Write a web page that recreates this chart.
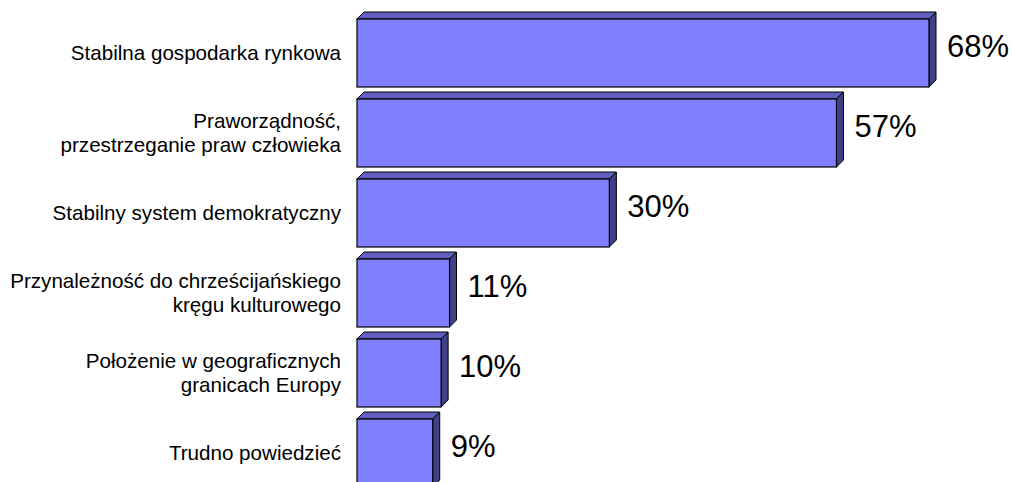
<!DOCTYPE html>
<html>
<head>
<meta charset="utf-8">
<script src="https://cdn.jsdelivr.net/npm/d3@7"></script>
<style>
  body { margin: 0; background: #fff; }
  svg { display: block; font-family: "Liberation Sans", Arial, sans-serif; }
</style>
</head>
<body>
<div id="chart"></div>
<script>
// Data
const categories = [
  ["Stabilna gospodarka rynkowa"],
  ["Praworządność,", "przestrzeganie praw człowieka"],
  ["Stabilny system demokratyczny"],
  ["Przynależność do chrześcijańskiego", "kręgu kulturowego"],
  ["Położenie w geograficznych", "granicach Europy"],
  ["Trudno powiedzieć"]
];
const values = [68, 57, 30, 11, 10, 9];
const valueLabels = ["68%", "57%", "30%", "11%", "10%", "9%"];

// Dimensions
const dimensions = {
  width: 1012,
  height: 482,
  left: 357,
  depth: 7,
};

const svg = d3
  .select("#chart")
  .append("svg")
  .attr("width", dimensions.width)
  .attr("height", dimensions.height);

// Scales
const xScale = d3
  .scaleLinear()
  .domain([0, 68])
  .range([dimensions.left, 929]);

const yScale = d3
  .scaleBand()
  .domain(d3.range(values.length))
  .range([13, 493])
  .paddingInner(0.15)
  .paddingOuter(0.075);

const bw = yScale.bandwidth();
const dd = dimensions.depth;

const bars = svg
  .selectAll(".bar")
  .data(values)
  .join("g")
  .attr("class", "bar");

// top face
bars
  .append("path")
  .attr("d", (d, i) => {
    const x0 = xScale(0), x1 = xScale(d), y = yScale(i);
    return `M${x0},${y}L${x0 + dd},${y - dd}L${x1 + dd},${y - dd}L${x1},${y}Z`;
  })
  .attr("fill", "#6060c0")
  .attr("stroke", "#000")
  .attr("stroke-width", 1)
  .attr("stroke-linejoin", "round");

// side face
bars
  .append("path")
  .attr("d", (d, i) => {
    const x1 = xScale(d), y = yScale(i);
    return `M${x1},${y}L${x1 + dd},${y - dd}L${x1 + dd},${y + bw - dd}L${x1},${y + bw}Z`;
  })
  .attr("fill", "#404088")
  .attr("stroke", "#000")
  .attr("stroke-width", 1)
  .attr("stroke-linejoin", "round");

// front face
bars
  .append("rect")
  .attr("x", xScale(0))
  .attr("y", (d, i) => yScale(i))
  .attr("width", (d) => xScale(d) - xScale(0))
  .attr("height", bw)
  .attr("fill", "#8080ff")
  .attr("stroke", "#000")
  .attr("stroke-width", 1.2);

// value labels
svg
  .selectAll(".value")
  .data(values)
  .join("text")
  .attr("class", "value")
  .attr("x", (d) => xScale(d) + dd + 11)
  .attr("y", (d, i) => yScale(i) + bw / 2 + 4)
  .attr("font-size", 31)
  .attr("fill", "#000")
  .text((d, i) => valueLabels[i]);

// category labels
const lineH = 23.5;
const cat = svg
  .selectAll(".cat")
  .data(categories)
  .join("text")
  .attr("class", "cat")
  .attr("text-anchor", "end")
  .attr("font-size", 20.6)
  .attr("fill", "#000");

cat
  .selectAll("tspan")
  .data((d, i) => d.map((line, j) => ({ line, j, n: d.length, i })))
  .join("tspan")
  .attr("x", 341)
  .attr("y", (d) => yScale(d.i) + bw / 2 + 7 + (d.j - (d.n - 1) / 2) * lineH)
  .text((d) => d.line);
</script>
</body>
</html>
